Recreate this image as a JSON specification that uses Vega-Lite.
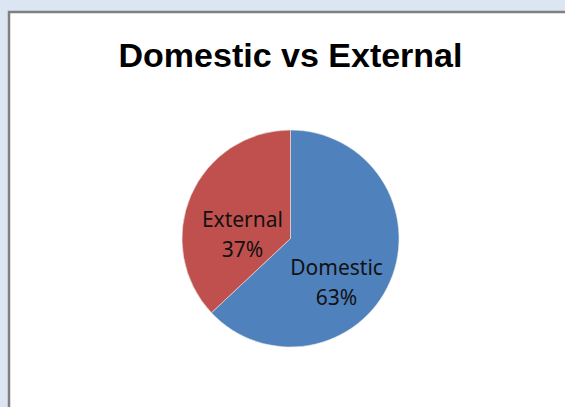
{
  "$schema": "https://vega.github.io/schema/vega-lite/v6.json",
  "width": 563,
  "height": 453,
  "padding": {"left": 9, "top": 12, "right": 0, "bottom": 0},
  "background": "#dce6f2",
  "view": {"fill": "#ffffff", "stroke": "#808080", "strokeWidth": 2.5},
  "title": {
    "text": "Domestic vs External",
    "font": "Liberation Sans",
    "fontSize": 34,
    "fontWeight": "bold",
    "color": "#000000",
    "anchor": "middle",
    "frame": "group",
    "baseline": "alphabetic",
    "offset": -89
  },
  "data": {
    "values": [
      {"category": "Domestic", "value": 63},
      {"category": "External", "value": 37}
    ]
  },
  "transform": [
    {"calculate": "datum.category + '\\n' + datum.value + '%'", "as": "label"}
  ],
  "encoding": {
    "theta": {"field": "value", "type": "quantitative", "stack": true},
    "color": {
      "field": "category",
      "type": "nominal",
      "scale": {"domain": ["Domestic", "External"], "range": ["#4f81bd", "#c0504d"]},
      "legend": null
    }
  },
  "layer": [
    {"mark": {"type": "arc", "outerRadius": 108.5, "stroke": "#e8e8e8", "strokeWidth": 0.6}},
    {
      "mark": {"type": "text", "radius": 60, "dx": -9, "dy": 7, "font": "Noto Sans", "fontSize": 21, "lineHeight": 30, "lineBreak": "\n", "baseline": "middle", "align": "center"},
      "encoding": {
        "text": {"condition": {"test": "datum.category == 'Domestic'", "field": "label"}, "value": ""},
        "color": {"value": "#111111"}
      }
    },
    {
      "mark": {"type": "text", "radius": 60, "dx": 7, "dy": 6, "font": "Noto Sans", "fontSize": 21, "lineHeight": 30, "lineBreak": "\n", "baseline": "middle", "align": "center"},
      "encoding": {
        "text": {"condition": {"test": "datum.category == 'External'", "field": "label"}, "value": ""},
        "color": {"value": "#111111"}
      }
    }
  ]
}
